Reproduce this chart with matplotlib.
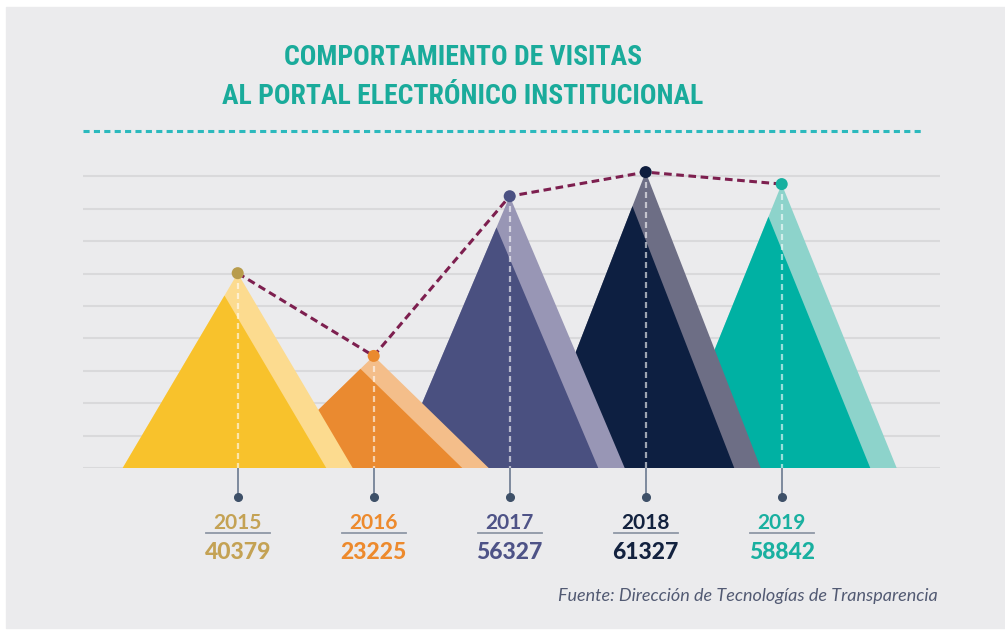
import matplotlib
matplotlib.use('Agg')
import matplotlib.pyplot as plt
import numpy as np
from matplotlib.patches import Polygon, Rectangle
from matplotlib.lines import Line2D
from matplotlib import font_manager

years = ['2015', '2016', '2017', '2018', '2019']
visits = [40379, 23225, 56327, 61327, 58842]
dark_colors = ['#f8c22c', '#ea8a30', '#4a5080', '#0d1f41', '#00b1a3']
light_colors = ['#fcdb8f', '#f4be8a', '#9896b5', '#6d6e85', '#8dd3cb']
dot_colors = ['#b89c4c', '#ea8a2e', '#4b5183', '#0e1d3e', '#17b0a0']
label_colors = ['#c4a254', '#ed8a2d', '#4e5387', '#13223f', '#19b0a0']
title_lines = ['COMPORTAMIENTO DE VISITAS', 'AL PORTAL ELECTRÓNICO INSTITUCIONAL']
source = 'Fuente: Dirección de Tecnologías de Transparencia'

# pick a narrow bold face for the title if one is around
fonts = font_manager.fontManager.ttflist
names = {f.name for f in fonts}
title_font = dict(family='DejaVu Sans', fontsize=19)
for cand in ['Liberation Sans Narrow', 'Roboto Condensed', 'Open Sans Condensed']:
    if cand in names:
        title_font = dict(family=cand, fontsize=19.9)
        break
else:
    if any(f.name == 'DejaVu Sans' and 'condensed' in str(f.stretch) for f in fonts):
        title_font = dict(family='DejaVu Sans', fontstretch='condensed', fontsize=18.9)
    else:
        title_font = dict(family='Roboto', fontsize=16)

W, H = 1005, 630
fig = plt.figure(figsize=(W / 100, H / 100), dpi=100)
fig.patch.set_facecolor('white')
fig.add_artist(Rectangle((6 / W, 2 / H), 1 - 6 / W, (H - 9) / H,
                         transform=fig.transFigure, color='#ebebed', zorder=0))

# axes placed so that baseline sits at px 468, grid spans px 83..940
ax = fig.add_axes([83 / W, 1 - 468 / H, 857 / W, 318 / H])
ax.patch.set_alpha(0)
px_per_unit = 0.004825
ax.set_xlim((83 - 237.7) / 136, (940 - 237.7) / 136)
ax.set_ylim(0, 318 / px_per_unit)
ax.set_yticks(np.arange(10) * 6715)
ax.grid(axis='y', color='#d9d9db', lw=1.5)
ax.grid(axis='x', visible=False)
ax.set_axisbelow(True)
ax.tick_params(left=False, bottom=False, labelleft=False, labelbottom=False)
for s in ax.spines.values():
    s.set_visible(False)

halfw = 115 / 136
sc = 0.885
trans = ax.get_xaxis_transform()


def py(r):
    return (468 - r) / 318


for i, v in enumerate(visits):
    base = 20 - 3 * i
    left = i - halfw
    ax.add_patch(Polygon([(left, 0), (i, v), (i + halfw, 0)],
                         color=light_colors[i], lw=0, zorder=base))
    ax.add_patch(Polygon([(left, 0), (left + sc * halfw, sc * v), (left + 2 * sc * halfw, 0)],
                         color=dark_colors[i], lw=0, zorder=base + 1))
    ax.plot([i, i], [v, 0], color='white', alpha=0.6, lw=1.6,
            ls=(0, (2.7, 1.8)), zorder=base + 2)

    # stem + label below the baseline
    ax.plot([i, i], [py(468), py(497)], transform=trans, clip_on=False,
            color='#6b7a90', lw=1.2)
    ax.plot([i], [py(497)], 'o', ms=5.5, color='#3e5068', transform=trans, clip_on=False)
    ax.text(i, py(529), years[i], transform=trans, ha='center', va='baseline',
            fontsize=15, fontweight='bold', color=label_colors[i], family='Lato')
    ax.plot([i - 0.235, i + 0.235], [py(533.3)] * 2, transform=trans, clip_on=False,
            color='#8f97a6', lw=1.3)
    ax.text(i, py(559), str(v), transform=trans, ha='center', va='baseline',
            fontsize=16.5, fontweight='black', color=label_colors[i], family='Lato')

x = np.arange(len(visits))
ax.plot(x, visits, color='#7d1f4f', lw=2.2, ls=(0, (2.5, 1.5)), zorder=40, clip_on=False)
ax.scatter(x, visits, s=75, c=dot_colors, zorder=41, clip_on=False, linewidths=0)

fig.text(463 / W, 1 - 65 / H, title_lines[0], ha='center', va='baseline',
         fontweight='bold', color='#1aab9b', **title_font)
fig.text(463 / W, 1 - 103.5 / H, title_lines[1], ha='center', va='baseline',
         fontweight='bold', color='#1aab9b', **title_font)
fig.add_artist(Line2D([83 / W, 922 / W], [1 - 131 / H] * 2, transform=fig.transFigure,
                      color='#2bb9bd', lw=2.2, ls=(0, (2, 1.4))))

fig.text(938 / W, 1 - 601 / H, source, ha='right', va='baseline', fontsize=13,
         style='italic', color='#525a73', family='Lato')

fig.savefig('out.png', dpi=100, facecolor=fig.get_facecolor())
